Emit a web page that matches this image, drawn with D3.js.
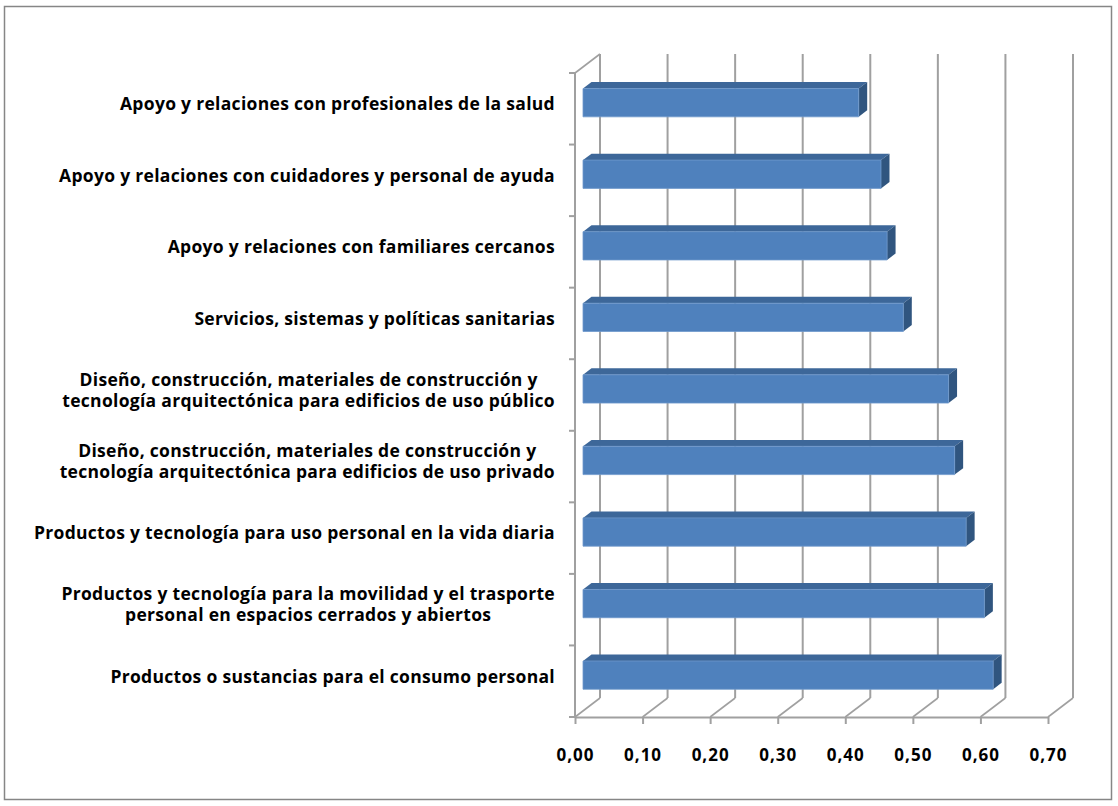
<!DOCTYPE html>
<html>
<head>
<meta charset="utf-8">
<script src="https://cdn.jsdelivr.net/npm/d3@7"></script>
<style>
  body { margin: 0; background: #fff; }
  svg { display: block; }
  .lbl { font-family: "Open Sans", Lato, sans-serif; font-weight: bold; fill: #000; }
</style>
</head>
<body>
<svg id="chart" width="1118" height="806"></svg>
<script>
// categories from top to bottom, "|" = line break as in the original
var categorias = [
	"Apoyo y relaciones con profesionales de la salud",
	"Apoyo y relaciones con cuidadores y personal de ayuda",
	"Apoyo y relaciones con familiares cercanos",
	"Servicios, sistemas y políticas sanitarias",
	"Diseño, construcción, materiales de construcción y|tecnología arquitectónica para edificios de uso público",
	"Diseño, construcción, materiales de construcción y|tecnología arquitectónica para edificios de uso privado",
	"Productos y tecnología para uso personal en la vida diaria",
	"Productos y tecnología para la movilidad y el trasporte|personal en espacios cerrados y abiertos",
	"Productos o sustancias para el consumo personal"
];
var valores = [0.408, 0.441, 0.450, 0.474, 0.541, 0.550, 0.567, 0.594, 0.607];
var ticks = [0, 0.1, 0.2, 0.3, 0.4, 0.5, 0.6, 0.7];
var tickLabels = ["0,00", "0,10", "0,20", "0,30", "0,40", "0,50", "0,60", "0,70"];

var svg = d3.select("#chart");

// outer frame
svg.append("rect")
	.attr("x", 4.5).attr("y", 6.5)
	.attr("width", 1107).attr("height", 793)
	.attr("fill", "#fff")
	.attr("stroke", "#868686")
	.attr("stroke-width", 1.5);

// scales (front plane)
var xScale = d3.scaleLinear().domain([0, 0.7]).range([575, 1048]);
var yScale = d3.scaleBand().domain(d3.range(categorias.length)).range([73, 717]);

// depth of the 3D box
var depthX = 25, depthY = -19;
function proj(px, py, z) { return [px + z * depthX, py + z * depthY]; }

var gridColor = "#a0a0a0";
var floorY = yScale.range()[1];
var topY = yScale.range()[0];
var grid = svg.append("g").attr("stroke", gridColor).attr("stroke-width", 2).attr("fill", "none");

// back wall gridlines
ticks.forEach(function(v) {
	var a = proj(xScale(v), topY, 1), b = proj(xScale(v), floorY, 1);
	grid.append("line").attr("x1", a[0]).attr("y1", a[1]).attr("x2", b[0]).attr("y2", b[1]);
	// floor diagonals
	var c = proj(xScale(v), floorY, 0);
	grid.append("line").attr("x1", c[0]).attr("y1", c[1]).attr("x2", b[0]).attr("y2", b[1])
		.attr("stroke-width", 1.6);
});

// left wall: front edge + top diagonal
var lt = proj(xScale(0), topY, 1);
grid.append("line").attr("x1", xScale(0)).attr("y1", topY).attr("x2", xScale(0)).attr("y2", floorY);
grid.append("line").attr("x1", xScale(0)).attr("y1", topY).attr("x2", lt[0]).attr("y2", lt[1]).attr("stroke-width", 1.6);

// category ticks on the band boundaries
var bounds = categorias.map(function(d, i) { return yScale(i); }).concat([floorY]);
bounds.forEach(function(y) {
	grid.append("line").attr("x1", xScale(0) - 6).attr("y1", y).attr("x2", xScale(0)).attr("y2", y);
});

// value axis on the front floor edge
var xAxis = d3.axisBottom(xScale)
	.tickValues(ticks)
	.tickFormat(function(d, i) { return tickLabels[i]; })
	.tickSize(7)
	.tickSizeOuter(0)
	.tickPadding(25);
var gx = svg.append("g").attr("transform", "translate(0," + floorY + ")").call(xAxis);
gx.select(".domain").attr("stroke", gridColor).attr("stroke-width", 2);
gx.selectAll(".tick line").attr("stroke", gridColor).attr("stroke-width", 2);
gx.selectAll(".tick text").attr("class", "lbl")
	.style("font-size", "17px").style("letter-spacing", "1px").attr("fill", "#000");

// bars
var barH = yScale.bandwidth() * 0.395;
var z0 = 0.32, z1 = 0.66;
var bars = svg.append("g");
categorias.forEach(function(c, i) {
	var cy = yScale(i) + yScale.bandwidth() / 2;
	var xl = xScale(0), xr = xScale(valores[i]);
	var yt = cy - barH / 2, yb = cy + barH / 2;
	var f1 = proj(xl, yt, z0), f2 = proj(xr, yt, z0), f3 = proj(xr, yb, z0), f4 = proj(xl, yb, z0);
	var b1 = proj(xl, yt, z1), b2 = proj(xr, yt, z1), b3 = proj(xr, yb, z1);
	var line = d3.line();
	// top face
	bars.append("path").attr("d", line([f1, b1, b2, f2]) + "Z").attr("fill", "#3d6799");
	// right side face
	bars.append("path").attr("d", line([f2, b2, b3, f3]) + "Z").attr("fill", "#30557f");
	// front face
	bars.append("path").attr("d", line([f1, f2, f3, f4]) + "Z")
		.attr("fill", "#4f81bd").attr("stroke", "#6f98cb").attr("stroke-width", 0.8);
});

// category labels, right edge at x = 555, multi-line labels centred
var labelRight = 555, lineGap = 21;
var labels = svg.append("g");
categorias.forEach(function(c, i) {
	var lines = c.split("|");
	var cy = yScale(i) + yScale.bandwidth() / 2 - 5;
	var t = labels.append("text").attr("class", "lbl")
		.style("font-size", "17.5px").style("letter-spacing", "0.3px");
	lines.forEach(function(l, k) {
		t.append("tspan")
			.attr("y", cy + (k - (lines.length - 1) / 2) * lineGap)
			.attr("dy", "0.36em")
			.text(l);
	});
	var maxW = 0;
	t.selectAll("tspan").each(function() { maxW = Math.max(maxW, this.getComputedTextLength()); });
	t.attr("text-anchor", "middle");
	t.selectAll("tspan").attr("x", labelRight - maxW / 2);
});
</script>
</body>
</html>
